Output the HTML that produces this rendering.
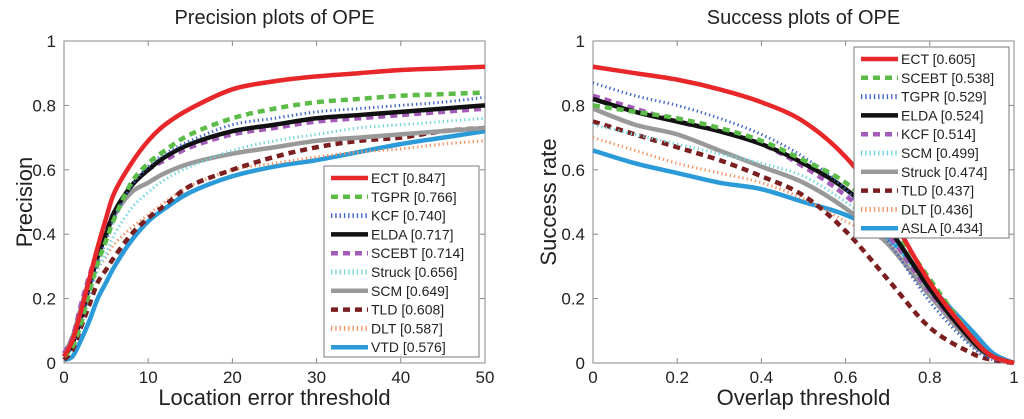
<!DOCTYPE html>
<html><head><meta charset="utf-8"><style>
body{margin:0;background:#fff;}
svg{font-family:"Liberation Sans",sans-serif;}
</style></head><body>
<svg id="c" width="1024" height="414"></svg>
<script>
const precX=[0,1,2,3,4,5,6,8,10,12,15,20,25,30,35,40,45,50];
const precNames=["ECT [0.847]","TGPR [0.766]","KCF [0.740]","ELDA [0.717]","SCEBT [0.714]","Struck [0.656]","SCM [0.649]","TLD [0.608]","DLT [0.587]","VTD [0.576]"];
const precECT  =[0.02,0.07,0.16,0.26,0.36,0.45,0.53,0.62,0.69,0.74,0.79,0.85,0.875,0.89,0.90,0.91,0.915,0.92];
const precTGPR =[0.02,0.05,0.12,0.22,0.31,0.38,0.45,0.56,0.62,0.66,0.71,0.76,0.79,0.81,0.82,0.83,0.835,0.84];
const precKCF  =[0.02,0.05,0.13,0.22,0.31,0.38,0.45,0.55,0.61,0.65,0.69,0.74,0.76,0.78,0.79,0.80,0.81,0.825];
const precELDA =[0.02,0.06,0.14,0.24,0.33,0.40,0.47,0.55,0.60,0.64,0.68,0.72,0.74,0.76,0.77,0.78,0.79,0.80];
const precSCEBT=[0.03,0.08,0.18,0.27,0.35,0.41,0.47,0.55,0.60,0.63,0.67,0.71,0.73,0.75,0.76,0.77,0.78,0.79];
const precStruck=[0.02,0.06,0.13,0.21,0.29,0.34,0.40,0.48,0.53,0.57,0.61,0.66,0.69,0.71,0.73,0.74,0.75,0.76];
const precSCM  =[0.03,0.08,0.17,0.26,0.34,0.40,0.46,0.53,0.56,0.59,0.62,0.65,0.67,0.69,0.70,0.71,0.72,0.73];
const precTLD  =[0.01,0.04,0.11,0.18,0.25,0.29,0.33,0.40,0.45,0.49,0.55,0.60,0.64,0.67,0.69,0.70,0.72,0.73];
const precDLT  =[0.02,0.06,0.14,0.22,0.29,0.33,0.37,0.42,0.46,0.50,0.55,0.60,0.62,0.64,0.655,0.665,0.68,0.69];
const precVTD  =[0.01,0.02,0.07,0.13,0.20,0.25,0.30,0.38,0.44,0.48,0.53,0.58,0.61,0.63,0.655,0.68,0.70,0.72];
const precXTicks=["0","10","20","30","40","50"];
const yTicks=["0","0.2","0.4","0.6","0.8","1"];

const succX=[0,0.1,0.2,0.3,0.4,0.5,0.6,0.7,0.8,0.9,0.95,1];
const succNames=["ECT [0.605]","SCEBT [0.538]","TGPR [0.529]","ELDA [0.524]","KCF [0.514]","SCM [0.499]","Struck [0.474]","TLD [0.437]","DLT [0.436]","ASLA [0.434]"];
const succECT  =[0.92,0.90,0.88,0.85,0.81,0.75,0.64,0.47,0.25,0.08,0.02,0];
const succSCEBT=[0.80,0.78,0.76,0.73,0.69,0.63,0.56,0.44,0.26,0.08,0.02,0];
const succTGPR =[0.87,0.83,0.80,0.76,0.71,0.64,0.54,0.38,0.19,0.05,0.01,0];
const succELDA =[0.82,0.78,0.75,0.72,0.68,0.62,0.54,0.42,0.23,0.07,0.02,0];
const succKCF  =[0.83,0.79,0.75,0.72,0.68,0.61,0.52,0.40,0.22,0.07,0.02,0];
const succSCM  =[0.74,0.71,0.68,0.65,0.62,0.58,0.50,0.40,0.22,0.07,0.02,0];
const succStruck=[0.79,0.74,0.71,0.66,0.61,0.56,0.48,0.37,0.21,0.06,0.02,0];
const succTLD  =[0.75,0.71,0.67,0.63,0.58,0.52,0.41,0.26,0.11,0.03,0.01,0];
const succDLT  =[0.70,0.66,0.62,0.59,0.56,0.51,0.44,0.37,0.22,0.07,0.02,0];
const succASLA =[0.66,0.62,0.59,0.56,0.54,0.50,0.46,0.39,0.24,0.10,0.03,0];
const succXTicks=["0","0.2","0.4","0.6","0.8","1"];

const ST={
 red:{c:"#e8272a",w:4.5,d:""}, green:{c:"#5cbc48",w:4.5,d:"7,5"}, blue:{c:"#3a62c4",w:3,d:"1.3,3"},
 black:{c:"#111",w:4.5,d:""}, purple:{c:"#a45cb8",w:4.5,d:"7,5"}, cyan:{c:"#6fd3dc",w:3,d:"1.3,3"},
 gray:{c:"#999",w:4.5,d:""}, brown:{c:"#7a1e20",w:4.5,d:"7,5"}, orange:{c:"#f39060",w:3,d:"1.3,3"},
 sky:{c:"#2a9bd8",w:4.5,d:""}
};
const NS="http://www.w3.org/2000/svg";
const svg=document.getElementById("c");
function mk(t,a,p){const e=document.createElementNS(NS,t);for(const k in a)e.setAttribute(k,a[k]);(p||svg).appendChild(e);return e;}
function smooth(pts){let d="M"+pts[0][0]+","+pts[0][1];for(let i=0;i<pts.length-1;i++){const p0=pts[i-1]||pts[i],p1=pts[i],p2=pts[i+1],p3=pts[i+2]||p2;
 const c1=[p1[0]+(p2[0]-p0[0])/6,p1[1]+(p2[1]-p0[1])/6],c2=[p2[0]-(p3[0]-p1[0])/6,p2[1]-(p3[1]-p1[1])/6];
 d+="C"+c1.join(",")+" "+c2.join(",")+" "+p2.join(",");}return d;}

function panel(o){
 const g=mk("g",{});
 
 
 const L=o.L,R=o.R,T=41,B=363;
 const sx=v=>L+(v-o.xmin)/(o.xmax-o.xmin)*(R-L), sy=v=>B-v*(B-T);
 const t=mk("text",{x:(L+R)/2,y:24,"text-anchor":"middle","font-size":20,fill:"#222"},g);t.textContent=o.title;
 
 mk("rect",{x:L,y:T,width:R-L,height:B-T,fill:"#fff",stroke:"#888","stroke-width":1},g);
 o.xticks.forEach((s,i)=>{const x=sx(o.xmin+i*(o.xmax-o.xmin)/(o.xticks.length-1));
  mk("line",{x1:x,x2:x,y1:B,y2:B-5,stroke:"#888"},g);mk("line",{x1:x,x2:x,y1:T,y2:T+5,stroke:"#888"},g);
  const e=mk("text",{x:x,y:B+20,"text-anchor":"middle","font-size":17,fill:"#222"},g);e.textContent=s;
  });
 yTicks.forEach((s,i)=>{const y=sy(i*0.2);
  mk("line",{x1:L,x2:L+5,y1:y,y2:y,stroke:"#888"},g);mk("line",{x1:R,x2:R-5,y1:y,y2:y,stroke:"#888"},g);
  const e=mk("text",{x:L-8,y:y+6,"text-anchor":"end","font-size":17,fill:"#222"},g);e.textContent=s;
  });
 const xl=mk("text",{x:(L+R)/2,y:405,"text-anchor":"middle","font-size":22,fill:"#222"},g);xl.textContent=o.xlabel;
 
 const yl=mk("text",{x:0,y:0,"text-anchor":"middle","font-size":22,fill:"#222",transform:`translate(${o.ylx},${(T+B)/2}) rotate(-90)`},g);yl.textContent=o.ylabel;
 
 for(let k=o.series.length-1;k>=0;k--){const s=o.series[k],st=ST[o.styles[k]];
  const p=mk("path",{d:smooth(o.xs.map((x,i)=>[sx(x),sy(s[i])])),fill:"none",stroke:st.c,"stroke-width":st.w,"stroke-dasharray":st.d},g);
  }
 const lg=mk("g",{},g);
 mk("rect",{x:o.lx,y:o.ly,width:155,height:191,fill:"#fff",stroke:"#777"},lg);
 o.names.forEach((n,k)=>{const y=o.ly+12+k*18.8,st=ST[o.styles[k]];
  mk("line",{x1:o.lx+7,x2:o.lx+44,y1:y,y2:y,stroke:st.c,"stroke-width":st.d.startsWith("1.3")?5:st.w,"stroke-dasharray":st.d},lg);
  const e=mk("text",{x:o.lx+47,y:y+5,"font-size":14,fill:"#222"},lg);e.textContent=n;
  });
}
panel({id:"precision",title:"Precision plots of OPE",L:64,R:485,xmin:0,xmax:50,xs:precX,xticks:precXTicks,
 xlabel:"Location error threshold",ylabel:"Precision",ylx:32,lx:324,ly:166,names:precNames,
 series:[precECT,precTGPR,precKCF,precELDA,precSCEBT,precStruck,precSCM,precTLD,precDLT,precVTD],
 styles:["red","green","blue","black","purple","cyan","gray","brown","orange","sky"]});
panel({id:"success",title:"Success plots of OPE",L:593,R:1014,xmin:0,xmax:1,xs:succX,xticks:succXTicks,
 xlabel:"Overlap threshold",ylabel:"Success rate",ylx:556,lx:854,ly:47,names:succNames,
 series:[succECT,succSCEBT,succTGPR,succELDA,succKCF,succSCM,succStruck,succTLD,succDLT,succASLA],
 styles:["red","green","blue","black","purple","cyan","gray","brown","orange","sky"]});
</script>
</body></html>
